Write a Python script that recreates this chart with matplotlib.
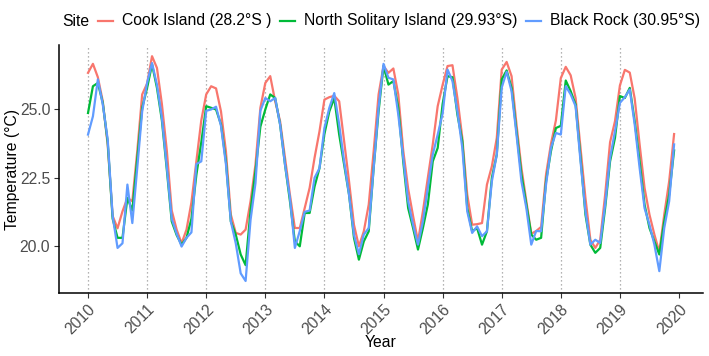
import numpy as np
import matplotlib
matplotlib.use("Agg")
import matplotlib.pyplot as plt
from matplotlib.lines import Line2D

plt.rcParams['font.family'] = ['Liberation Sans', 'DejaVu Sans']

start_year = 2010
n_years = 10

legend_title = "Site"
site_names = ["Cook Island (28.2°S )", "North Solitary Island (29.93°S)", "Black Rock (30.95°S)"]
site_colors = ["#F8766D", "#00BA38", "#619CFF"]

cook_island = [
    26.34, 26.67, 26.18, 25.30, 23.70, 21.10, 20.65, 21.27, 21.76, 21.64, 23.47, 25.55,
    25.95, 26.95, 26.52, 25.20, 23.50, 21.30, 20.60, 20.10, 20.60, 21.60, 23.10, 24.60,
    25.55, 25.85, 25.77, 24.93, 23.47, 21.15, 20.48, 20.42, 20.60, 21.64, 22.98, 25.06,
    25.97, 26.22, 25.30, 24.57, 23.23, 21.88, 20.66, 20.66, 21.39, 22.13, 23.23, 24.20,
    25.36, 25.45, 25.50, 25.30, 23.84, 22.37, 20.78, 19.99, 20.54, 21.52, 23.47, 25.55,
    26.59, 26.34, 26.50, 25.55, 23.50, 22.10, 21.10, 20.17, 21.27, 22.50, 23.72, 25.12,
    25.90, 26.59, 26.62, 25.42, 23.96, 21.88, 20.78, 20.80, 20.84, 22.25, 22.92, 23.96,
    26.46, 26.74, 26.22, 24.45, 22.86, 21.64, 20.45, 20.55, 20.70, 22.62, 23.74, 24.60,
    26.15, 26.56, 26.25, 25.42, 23.59, 21.76, 20.23, 19.93, 20.23, 21.88, 23.80, 24.57,
    25.88, 26.45, 26.35, 25.40, 23.72, 22.13, 21.15, 20.42, 19.78, 21.15, 22.37, 24.10,
]

north_solitary = [
    24.87, 25.85, 25.97, 25.24, 23.80, 21.00, 20.30, 20.30, 21.76, 21.30, 23.20, 25.06,
    25.79, 26.65, 25.79, 24.60, 22.80, 20.90, 20.40, 20.05, 20.30, 21.00, 22.60, 23.80,
    25.12, 25.06, 25.00, 24.45, 23.10, 20.90, 20.42, 19.69, 19.30, 21.30, 22.74, 24.37,
    25.00, 25.55, 25.42, 24.45, 22.98, 21.64, 20.17, 19.99, 21.21, 21.21, 22.18, 22.85,
    24.10, 24.93, 25.42, 24.08, 22.98, 21.88, 20.30, 19.50, 20.17, 20.54, 22.86, 24.93,
    26.59, 25.91, 26.04, 25.06, 23.10, 21.39, 20.66, 19.87, 20.66, 21.52, 23.10, 23.59,
    25.20, 26.22, 26.18, 24.81, 23.84, 21.39, 20.54, 20.66, 20.05, 20.54, 22.50, 23.35,
    26.10, 26.43, 25.79, 24.20, 22.62, 21.52, 20.42, 20.23, 20.30, 22.37, 23.47, 24.32,
    24.40, 26.06, 25.67, 25.18, 23.23, 21.15, 20.05, 19.75, 19.93, 21.39, 23.10, 23.96,
    25.49, 25.42, 25.79, 24.57, 23.10, 21.52, 20.66, 20.17, 19.69, 20.90, 21.88, 23.50,
]

black_rock = [
    24.08, 24.75, 26.10, 25.18, 23.90, 21.10, 19.93, 20.10, 22.25, 20.84, 22.86, 24.93,
    25.97, 26.70, 25.90, 24.70, 22.90, 21.00, 20.45, 19.98, 20.30, 20.50, 23.00, 23.10,
    24.95, 25.00, 25.10, 24.40, 23.00, 20.90, 20.10, 19.00, 18.72, 20.95, 22.30, 24.95,
    25.42, 25.30, 25.42, 24.45, 22.98, 21.76, 19.93, 20.55, 21.25, 21.30, 22.50, 22.85,
    24.32, 25.06, 25.60, 24.45, 23.10, 21.88, 20.42, 19.70, 20.42, 20.66, 22.86, 25.06,
    26.67, 26.16, 26.10, 24.81, 23.23, 21.64, 20.78, 20.05, 20.90, 22.13, 23.35, 24.08,
    24.85, 26.46, 26.04, 24.93, 23.59, 21.27, 20.48, 20.72, 20.36, 20.54, 22.37, 23.35,
    25.80, 26.38, 25.67, 24.08, 22.37, 21.39, 20.05, 20.55, 20.54, 22.25, 23.59, 24.14,
    24.08, 25.85, 25.55, 25.12, 23.10, 21.27, 20.05, 20.23, 20.11, 21.52, 23.23, 24.20,
    25.24, 25.45, 25.73, 24.45, 22.86, 21.39, 20.78, 20.05, 19.08, 20.66, 21.64, 23.72,
]

series = [cook_island, north_solitary, black_rock]
year_ticks = list(range(2010, 2021))
y_ticks = [20.0, 22.5, 25.0]

t = start_year + np.arange(n_years * 12) / 12.0

W, H = 709, 356
fig = plt.figure(figsize=(W / 100, H / 100), dpi=100)
ax_l, ax_r, ax_b, ax_t = 58.7, 703.4, 293.0, 45.0
ax = fig.add_axes([ax_l / W, 1 - ax_b / H, (ax_r - ax_l) / W, (ax_b - ax_t) / H])

for yr in year_ticks[:-1]:
    ax.axvline(yr, color="#9a9a9a", lw=0.9, linestyle=(0, (1, 2.2)), zorder=1)

for vals, name, col in zip(series, site_names, site_colors):
    ax.plot(t, vals, color=col, lw=1.6, zorder=3, solid_joinstyle='round', label=name)

xr = t[-1] - t[0]
ax.set_xlim(t[0] - 0.05 * xr, t[-1] + 0.05 * xr)
ax.set_ylim(18.28, 27.36)

ax.set_xticks(year_ticks)
ax.set_xticklabels([str(y) for y in year_ticks], rotation=45, ha='right', va='top',
                   rotation_mode='anchor')
ax.set_yticks(y_ticks)
ax.set_yticklabels([f"{v:.1f}" for v in y_ticks])

for s in ['top', 'right']:
    ax.spines[s].set_visible(False)
for s in ['left', 'bottom']:
    ax.spines[s].set_color('black')
    ax.spines[s].set_linewidth(1.1)

ax.tick_params(axis='both', colors='#333333', length=3.5, width=0.8,
               labelsize=11.3, labelcolor='#4D4D4D', pad=2.5)
ax.tick_params(axis='x', pad=3)

ax.set_xlabel("Year", fontsize=11.3, color='black')
ax.set_ylabel("Temperature (°C)", fontsize=11.3, color='black')
ax.xaxis.set_label_coords(0.5, -(335 - ax_b) / (ax_b - ax_t))
ax.yaxis.set_label_coords(-(ax_l - 20) / (ax_r - ax_l), 0.5)

# legend across the top (ggplot style: title on the left, keys in a row)
leg_y = 1 - 21 / H
fig.text(62 / W, leg_y, legend_title, fontsize=11.3, ha='left', va='center', color='black')
key_x = [98, 280, 526]
label_x = [122, 304, 550]
for kx, lx, name, col in zip(key_x, label_x, site_names, site_colors):
    fig.add_artist(Line2D([kx / W, (kx + 15) / W], [leg_y, leg_y], color=col, lw=1.6,
                          transform=fig.transFigure))
    fig.text(lx / W, leg_y, name, fontsize=11.3, ha='left', va='center', color='black')

fig.savefig("out.png", dpi=100)
